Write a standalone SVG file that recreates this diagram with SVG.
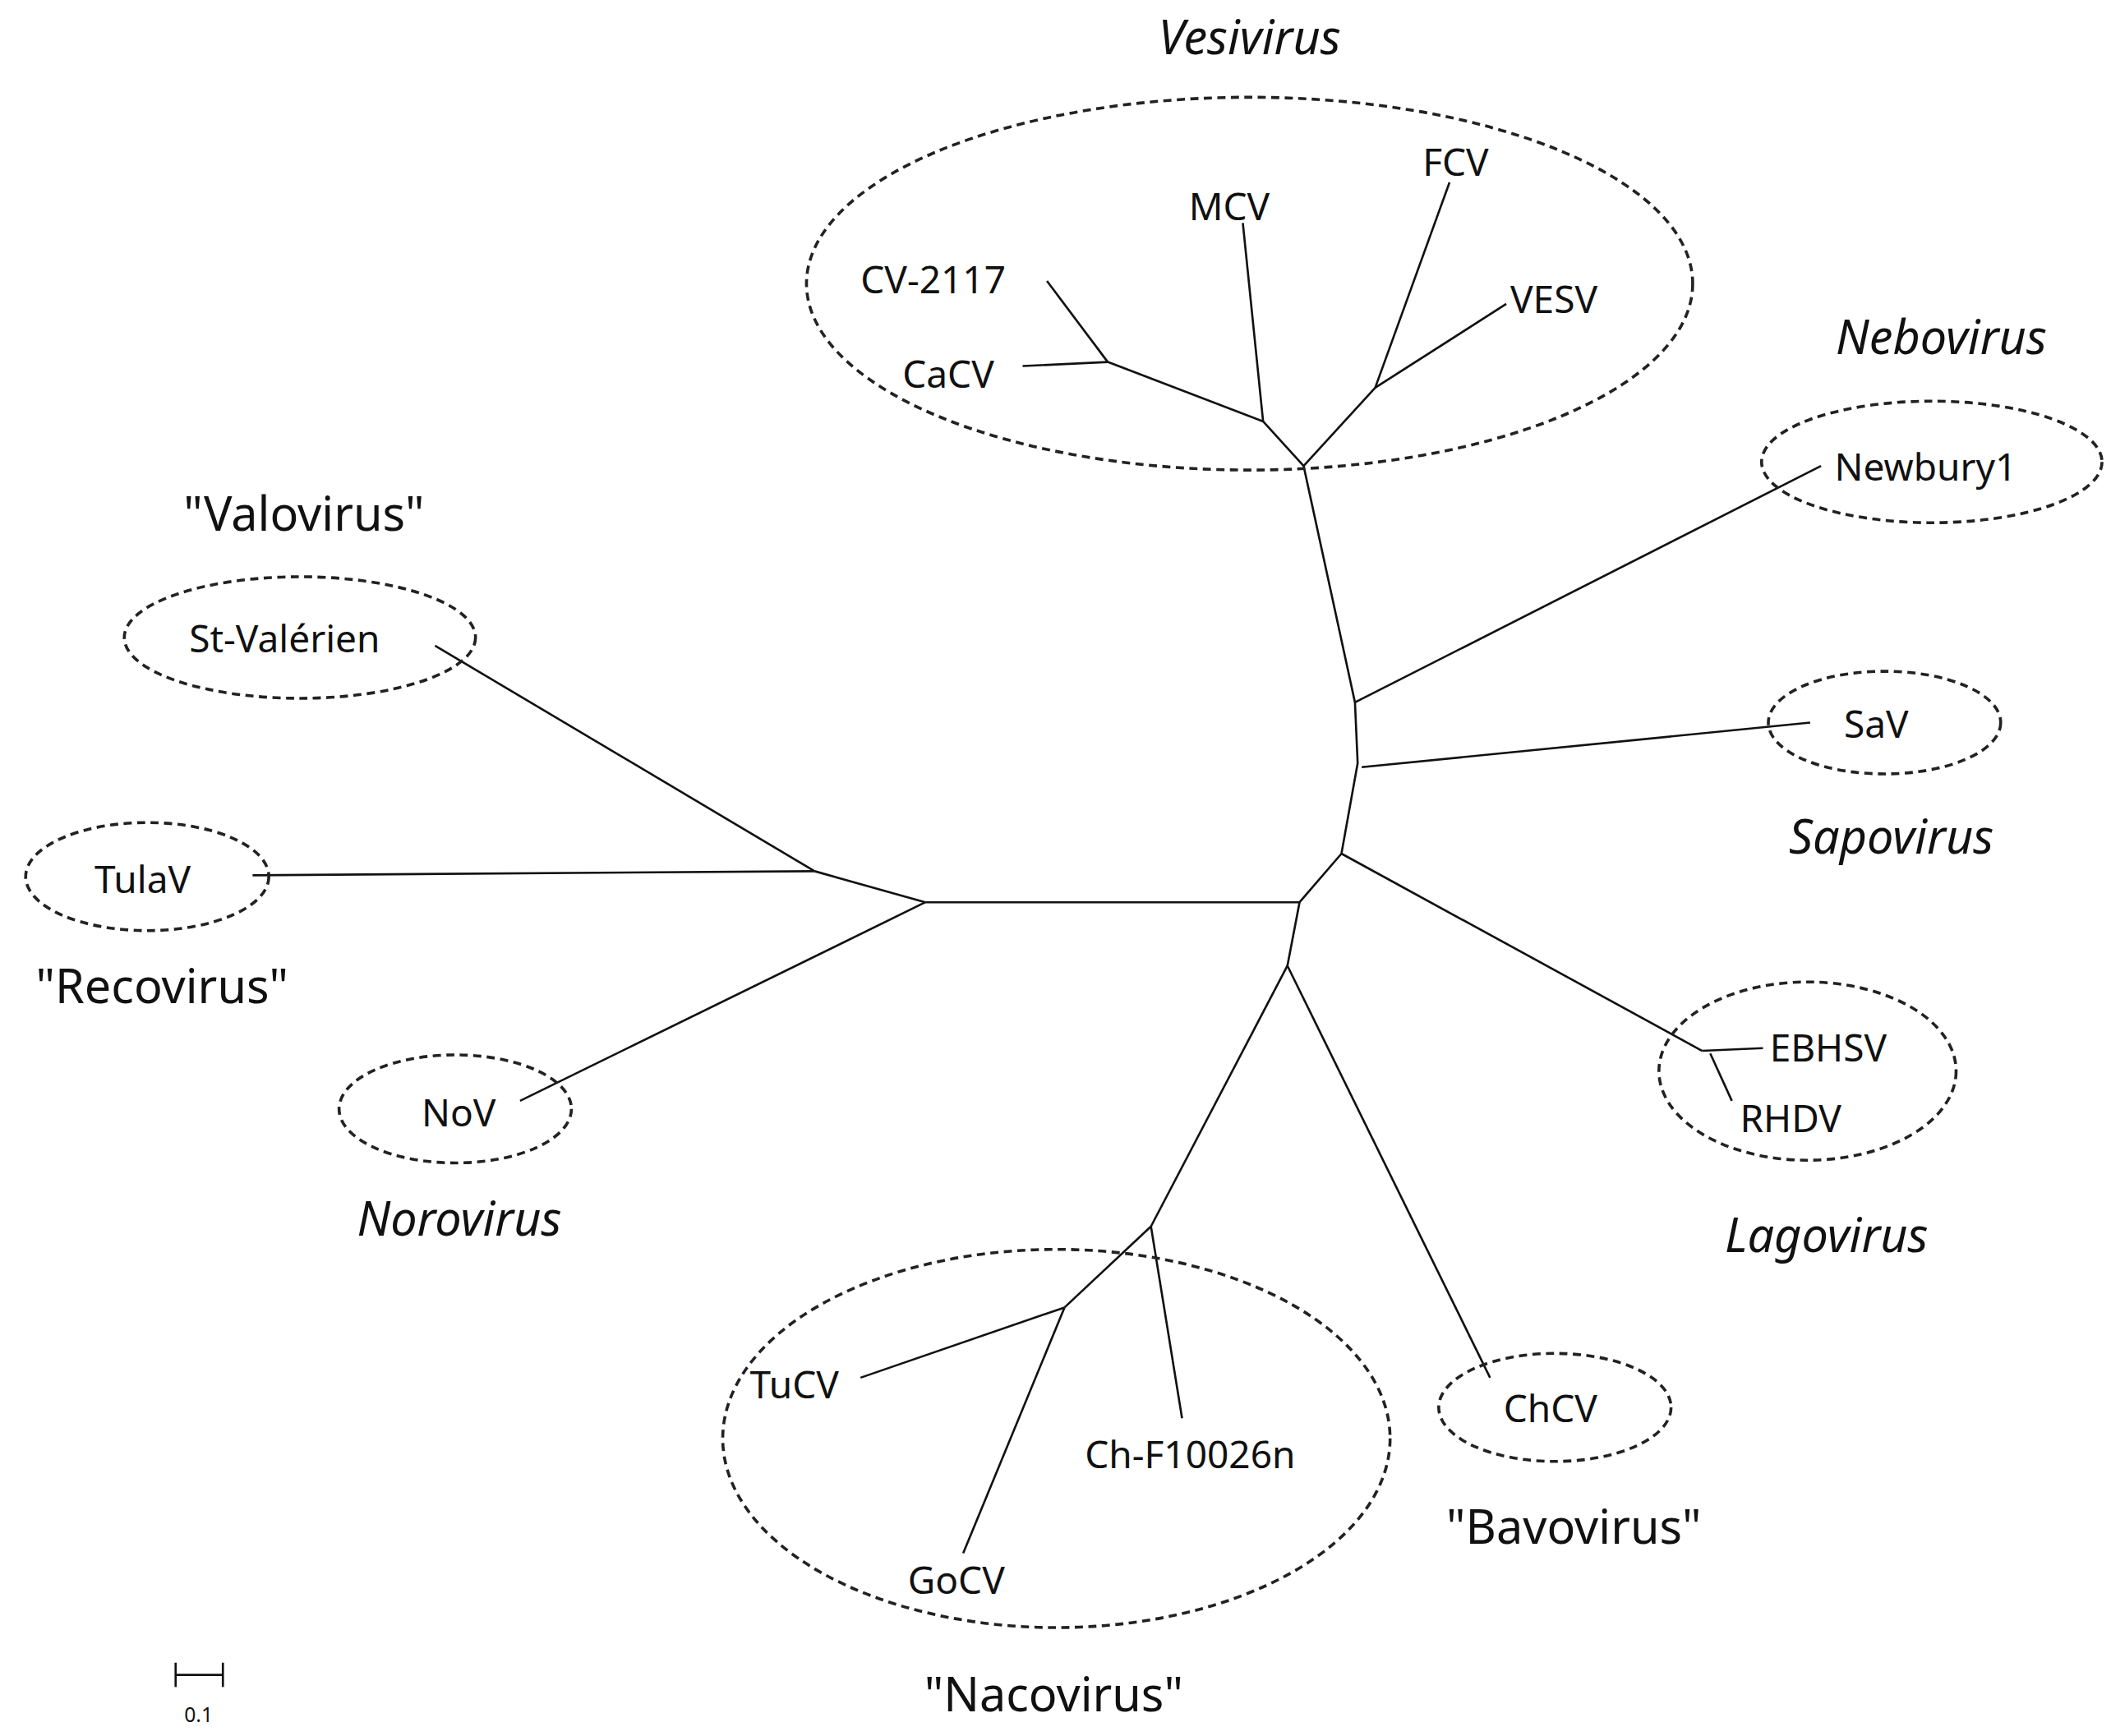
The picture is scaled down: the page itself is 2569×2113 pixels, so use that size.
<svg xmlns="http://www.w3.org/2000/svg" width="2569" height="2113" viewBox="0 0 2569 2113">
<style>
.e{fill:none;stroke:#222;stroke-width:2.2;stroke-dasharray:6 4}
.l{fill:none;stroke:#111;stroke-width:1.6}
text{font-family:"Noto Sans","Liberation Sans",sans-serif;fill:#111}
.n{font-size:28px}
.g{font-size:35px;text-anchor:middle}
.i{font-style:italic}
</style>
<rect width="2569" height="2113" fill="#fff"/>
<g transform="scale(1.644)">
<g id="connectors">
<polyline class="l" points="935,312 965,345 1003,520 1005,565 993,632 962,668 953,715"/>
<line class="l" x1="935" y1="312" x2="920" y2="165"/>
<line class="l" x1="935" y1="312" x2="820" y2="268"/>
<line class="l" x1="820" y1="268" x2="757" y2="271"/>
<line class="l" x1="820" y1="268" x2="775" y2="208"/>
<line class="l" x1="965" y1="345" x2="1018" y2="287"/>
<line class="l" x1="1018" y1="287" x2="1073" y2="135"/>
<line class="l" x1="1018" y1="287" x2="1115" y2="225"/>
<line class="l" x1="1003" y1="520" x2="1348" y2="345"/>
<line class="l" x1="1008" y1="568" x2="1340" y2="535"/>
<line class="l" x1="993" y1="632" x2="1260" y2="778"/>
<line class="l" x1="1260" y1="778" x2="1305" y2="776"/>
<line class="l" x1="1266" y1="780" x2="1282" y2="815"/>
<line class="l" x1="962" y1="668" x2="685" y2="668"/>
<line class="l" x1="953" y1="715" x2="1103" y2="1020"/>
<line class="l" x1="953" y1="715" x2="852" y2="908"/>
<line class="l" x1="852" y1="908" x2="875" y2="1050"/>
<line class="l" x1="852" y1="908" x2="788" y2="968"/>
<line class="l" x1="788" y1="968" x2="637" y2="1020"/>
<line class="l" x1="788" y1="968" x2="713" y2="1150"/>
<line class="l" x1="685" y1="668" x2="603" y2="645"/>
<line class="l" x1="603" y1="645" x2="322" y2="478"/>
<line class="l" x1="603" y1="645" x2="187" y2="648"/>
<line class="l" x1="685" y1="668" x2="385" y2="815"/>
</g>
<g id="vesivirus"><ellipse class="e" cx="925" cy="210" rx="328" ry="138"/>
<text class="g i" x="925" y="40">Vesivirus</text>
<text class="n" x="880" y="163">MCV</text><text class="n" x="1053" y="130">FCV</text>
<text class="n" x="1118" y="232">VESV</text><text class="n" x="637" y="217">CV-2117</text>
<text class="n" x="668" y="287">CaCV</text></g>
<g id="nebovirus"><ellipse class="e" cx="1430" cy="342" rx="126" ry="45"/>
<text class="g i" x="1437" y="262">Nebovirus</text><text class="n" x="1358" y="356">Newbury1</text></g>
<g id="sapovirus"><ellipse class="e" cx="1395" cy="535" rx="86" ry="38"/>
<text class="g i" x="1400" y="632">Sapovirus</text><text class="n" x="1365" y="546">SaV</text></g>
<g id="lagovirus"><ellipse class="e" cx="1338" cy="793" rx="110" ry="66"/>
<text class="g i" x="1352" y="927">Lagovirus</text><text class="n" x="1310" y="786">EBHSV</text><text class="n" x="1288" y="838">RHDV</text></g>
<g id="bavovirus"><ellipse class="e" cx="1151" cy="1042" rx="86" ry="40"/>
<text class="g" x="1165" y="1143">"Bavovirus"</text><text class="n" x="1113" y="1053">ChCV</text></g>
<g id="nacovirus"><ellipse class="e" cx="782" cy="1065" rx="247" ry="140"/>
<text class="g" x="780" y="1267">"Nacovirus"</text><text class="n" x="555" y="1035">TuCV</text>
<text class="n" x="803" y="1087">Ch-F10026n</text><text class="n" x="672" y="1180">GoCV</text></g>
<g id="norovirus"><ellipse class="e" cx="337" cy="821" rx="86" ry="40"/>
<text class="g i" x="340" y="915">Norovirus</text><text class="n" x="312" y="834">NoV</text></g>
<g id="recovirus"><ellipse class="e" cx="109" cy="649" rx="90" ry="40"/>
<text class="g" x="120" y="743">"Recovirus"</text><text class="n" x="70" y="661">TulaV</text></g>
<g id="valovirus"><ellipse class="e" cx="222" cy="472" rx="130" ry="45"/>
<text class="g" x="225" y="393">"Valovirus"</text><text class="n" x="140" y="483">St-Valérien</text></g>
<g id="scale"><line class="l" x1="130" y1="1240" x2="165" y2="1240"/><line class="l" x1="130" y1="1231" x2="130" y2="1249"/><line class="l" x1="165" y1="1231" x2="165" y2="1249"/>
<text x="147" y="1275" font-size="15" text-anchor="middle">0.1</text></g>
</g>
</svg>
